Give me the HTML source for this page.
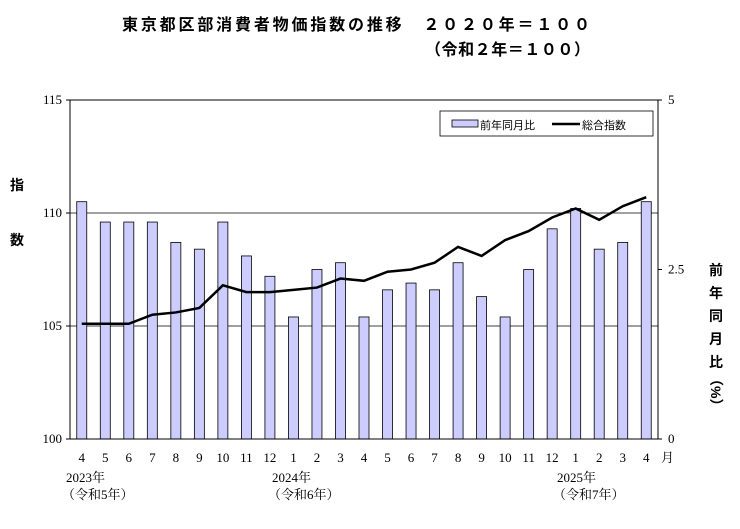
<!DOCTYPE html>
<html><head><meta charset="utf-8"><style>
body{margin:0;background:#fff;width:740px;height:524px;overflow:hidden}
svg text{font-family:"Liberation Serif","Noto Serif CJK SC",serif;fill:#000}
svg text.g{font-family:"Liberation Sans","Noto Sans CJK JP",sans-serif}
</style></head><body>
<svg id="chart" width="740" height="524">
<text class="g" x="122" y="30" font-size="16" font-weight="bold" textLength="468" lengthAdjust="spacing">東京都区部消費者物価指数の推移　２０２０年＝１００</text>
<text class="g" x="425" y="55" font-size="16" font-weight="bold" textLength="165" lengthAdjust="spacing">（令和２年＝１００）</text>
<g id="grid"></g><g id="bars"></g><g id="line"></g><g id="axes"></g>
<text class="g" x="10" y="190" font-size="14" font-weight="bold">指</text>
<text class="g" x="10" y="245" font-size="14" font-weight="bold">数</text>
<g class="g" font-size="14" font-weight="bold">
<text class="g" x="709" y="275">前</text><text class="g" x="709" y="298">年</text><text class="g" x="709" y="321">同</text><text class="g" x="709" y="344">月</text><text class="g" x="709" y="367">比</text>
<text class="g" x="711" y="372" transform="rotate(90 711 372)">（%）</text></g>
<g>
<rect x="440" y="111" width="213" height="25" fill="#fff" stroke="#000" stroke-width="0.8"/>
<rect x="452" y="120" width="26" height="7" fill="#ccccff" stroke="#000" stroke-width="0.8"/>
<text class="g" x="480" y="129" font-size="11">前年同月比</text>
<line x1="552" y1="124" x2="580" y2="124" stroke="#000" stroke-width="2.5"/>
<text class="g" x="582" y="129" font-size="11">総合指数</text></g>
<g font-size="13">
<text x="66" y="482">2023年</text><text x="62" y="499">（令和5年）</text>
<text x="272" y="482">2024年</text><text x="268" y="499">（令和6年）</text>
<text x="557" y="482">2025年</text><text x="553" y="499">（令和7年）</text></g>
</svg>
<script>
const months=["4","5","6","7","8","9","10","11","12","1","2","3","4","5","6","7","8","9","10","11","12","1","2","3","4"];
const yoyValues=[3.5,3.2,3.2,3.2,2.9,2.8,3.2,2.7,2.4,1.8,2.5,2.6,1.8,2.2,2.3,2.2,2.6,2.1,1.8,2.5,3.1,3.4,2.8,2.9,3.5];
const indexValues=[105.1,105.1,105.1,105.5,105.6,105.8,106.8,106.5,106.5,106.6,106.7,107.1,107.0,107.4,107.5,107.8,108.5,108.1,108.8,109.2,109.8,110.2,109.7,110.3,110.7];
const leftTicks=[100,105,110,115];
const rightTicks=["0","2.5","5"];
const NS="http://www.w3.org/2000/svg";
const L=70,R=658,T=100,B=439;
const yL=v=>B-(v-100)/15*(B-T);
const yR=v=>B-v/5*(B-T);
const bw=(R-L)/months.length;
const xC=i=>L+bw*(i+0.5);
function mk(p,tag,a){const e=document.createElementNS(NS,tag);for(const k in a)e.setAttribute(k,a[k]);document.getElementById(p).appendChild(e);return e;}
leftTicks.forEach(v=>{
 if(v>100&&v<115){const g=mk("grid","line",{x1:L,x2:R,y1:yL(v),y2:yL(v),stroke:"#000","stroke-width":0.8});
 
 }
 const t=mk("axes","text",{x:L-8,y:yL(v)+4,"font-size":13,"text-anchor":"end"});t.textContent=v;
 
 
 mk("axes","line",{x1:L-4,x2:L,y1:yL(v),y2:yL(v),stroke:"#000"});
});
rightTicks.forEach(s=>{const v=parseFloat(s);
 const t=mk("axes","text",{x:R+10,y:yR(v)+4,"font-size":13});t.textContent=s;
 
 
 mk("axes","line",{x1:R,x2:R+4,y1:yR(v),y2:yR(v),stroke:"#000"});
});
const fr=mk("axes","rect",{x:L,y:T,width:R-L,height:B-T,fill:"none",stroke:"#000","stroke-width":1});


yoyValues.forEach((v,i)=>{
 const b=mk("bars","rect",{x:xC(i)-5,y:yR(v),width:10,height:B-yR(v),fill:"#ccccff",stroke:"#000","stroke-width":0.8});
 
 
});
const pl=mk("line","polyline",{points:indexValues.map((v,i)=>xC(i)+","+yL(v)).join(" "),fill:"none",stroke:"#000","stroke-width":2.5});


months.forEach((m,i)=>{
 const t=mk("axes","text",{x:xC(i),y:462,"font-size":13,"text-anchor":"middle"});t.textContent=m;
 
 
});
const mt=mk("axes","text",{x:R+3,y:462,"font-size":13});mt.textContent="月";


</script>
</body></html>
